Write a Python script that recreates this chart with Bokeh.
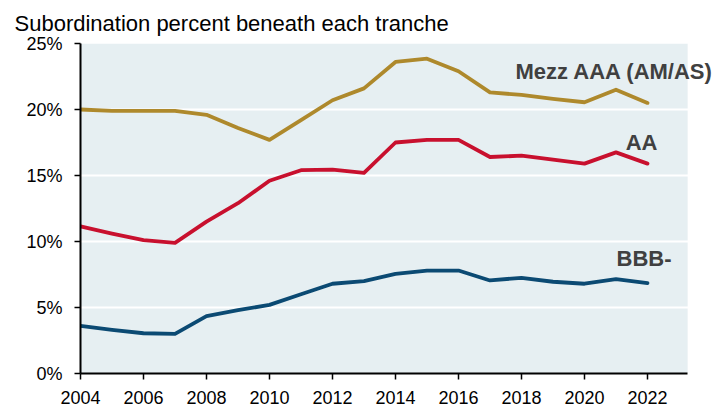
from bokeh.plotting import figure
from bokeh.models import Range1d, FixedTicker, PrintfTickFormatter, Label, BoxAnnotation
from bokeh.embed import file_html
from bokeh.resources import INLINE

# ---- data ----
years = [2004, 2005, 2006, 2007, 2008, 2009, 2010, 2011, 2012, 2013,
         2014, 2015, 2016, 2017, 2018, 2019, 2020, 2021, 2022]
mezz_aaa = [20.0, 19.9, 19.9, 19.9, 19.6, 18.6, 17.7, 19.2, 20.7, 21.6,
            23.6, 23.85, 22.9, 21.3, 21.1, 20.8, 20.55, 21.5, 20.5]
aa = [11.15, 10.6, 10.1, 9.9, 11.5, 12.9, 14.6, 15.4, 15.45, 15.2,
      17.5, 17.7, 17.7, 16.4, 16.5, 16.2, 15.9, 16.75, 15.9]
bbb_minus = [3.6, 3.3, 3.05, 3.0, 4.35, 4.8, 5.2, 6.0, 6.8, 7.0,
             7.55, 7.8, 7.8, 7.05, 7.25, 6.95, 6.8, 7.15, 6.85]
series_names = ["Mezz AAA (AM/AS)", "AA", "BBB-"]
x_ticks = [2004, 2006, 2008, 2010, 2012, 2014, 2016, 2018, 2020, 2022]
y_ticks = [0, 5, 10, 15, 20, 25]
subtitle = "Subordination percent beneath each tranche"

FONT = "Liberation Sans"
colors = ["#AE892C", "#C8102E", "#0B4A73"]
BG = "#E6EFF2"

W, H = 728, 411
LEFT, TOP, BOTTOM = 80, 43, 38
x_start, x_axis_end = 2004, 2023.28
shade_px = 607.3  # width in px of the shaded plot area
x_end = x_start + (x_axis_end - x_start) * (W - LEFT) / shade_px

p = figure(width=W, height=H, output_backend="svg", toolbar_location=None,
           x_range=Range1d(x_start, x_end), y_range=Range1d(0, 25),
           min_border_left=LEFT, min_border_right=0, min_border_top=TOP,
           min_border_bottom=BOTTOM)

p.title.text = subtitle
p.title.text_font = FONT
p.title.text_font_size = "22px"
p.title.text_font_style = "normal"
p.title.text_color = "#000000"
p.title.align = "left"
p.title.offset = -66
p.title.standoff = 15

p.background_fill_color = "white"
p.border_fill_color = "white"
p.outline_line_color = None

# shaded plot area
p.add_layout(BoxAnnotation(left=x_start, right=x_axis_end, fill_color=BG,
                           fill_alpha=1, line_color=None, level="image"))

p.xgrid.visible = False
p.ygrid.ticker = FixedTicker(ticks=y_ticks)
p.ygrid.grid_line_color = "white"
p.ygrid.grid_line_width = 2

# white cover to stop grid lines past the shaded area
p.add_layout(BoxAnnotation(left=x_axis_end, fill_color="white", fill_alpha=1,
                           line_color=None, level="glyph"))

for ax in (p.xaxis[0], p.yaxis[0]):
    ax.axis_line_color = "black"
    ax.axis_line_width = 2
    ax.major_tick_line_color = "black"
    ax.major_tick_line_width = 1.5
    ax.major_tick_out = 6
    ax.major_tick_in = 0
    ax.minor_tick_line_color = None
    ax.major_label_text_font = FONT
    ax.major_label_text_font_size = "18px"
    ax.major_label_text_color = "#000000"

p.xaxis.bounds = (x_start, x_axis_end)
p.xaxis.ticker = FixedTicker(ticks=x_ticks)
p.xaxis.formatter = PrintfTickFormatter(format="%d")
p.xaxis.major_label_standoff = 11
p.yaxis.ticker = FixedTicker(ticks=y_ticks)
p.yaxis.formatter = PrintfTickFormatter(format="%d%%")
p.yaxis.major_label_standoff = 12

all_series = [mezz_aaa, aa, bbb_minus]
for vals, col in zip(all_series, colors):
    p.line(years, vals, line_color=col, line_width=3.8,
           line_join="round", line_cap="round")

# label offsets (screen px) from each series' last point
offsets = [(66, 31), (10, 21), (24, 25)]
for name, vals, (dx, dy) in zip(series_names, all_series, offsets):
    p.add_layout(Label(x=years[-1], y=vals[-1], x_offset=dx, y_offset=dy,
                       text=name, text_font=FONT, text_font_size="22px",
                       text_font_style="bold", text_color="#404040",
                       text_align="right", text_baseline="alphabetic"))

open("out.html", "w").write(file_html(p, INLINE))
